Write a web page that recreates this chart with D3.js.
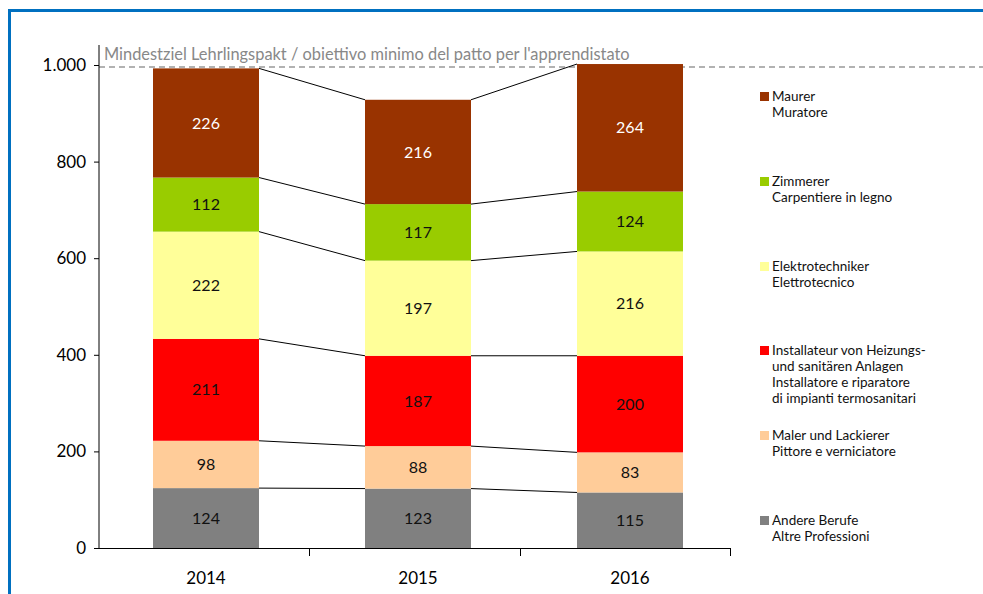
<!DOCTYPE html>
<html>
<head>
<meta charset="utf-8">
<script src="https://cdn.jsdelivr.net/npm/d3@7"></script>
<style>
  body { margin: 0; background: #fff; }
  svg { display: block; font-family: Lato, "Open Sans", sans-serif; }
</style>
</head>
<body>
<div id="chart"></div>
<script>
'use strict';

const years = ['2014', '2015', '2016'];
const seriesNames = [
  ['Andere Berufe', 'Altre Professioni'],
  ['Maler und Lackierer', 'Pittore e verniciatore'],
  ['Installateur von Heizungs-', 'und sanitären Anlagen', 'Installatore e riparatore', 'di impianti termosanitari'],
  ['Elektrotechniker', 'Elettrotecnico'],
  ['Zimmerer', 'Carpentiere in legno'],
  ['Maurer', 'Muratore']
];
const seriesColors = ['#808080', '#ffcc99', '#ff0000', '#ffff99', '#99cc00', '#993300'];
// values per series (bottom to top), one per year
const andere = [124, 123, 115];
const maler = [98, 88, 83];
const installateur = [211, 187, 200];
const elektro = [222, 197, 216];
const zimmerer = [112, 117, 124];
const maurer = [226, 216, 264];
const yTicks = [0, 200, 400, 600, 800, 1000];
const target = 1000;
const targetLabel = "Mindestziel Lehrlingspakt / obiettivo minimo del patto per l'apprendistato";

const values = [andere, maler, installateur, elektro, zimmerer, maurer];
const W = 983, H = 594;

const $svg = d3.select('#chart').append('svg').attr('width', W).attr('height', H);

// frame
$svg.append('line').attr('x1', 8).attr('x2', W).attr('y1', 10.5).attr('y2', 10.5)
  .attr('stroke', '#0070c0').attr('stroke-width', 3);
$svg.append('line').attr('x1', 9.5).attr('x2', 9.5).attr('y1', 9).attr('y2', H)
  .attr('stroke', '#0070c0').attr('stroke-width', 3);

const x = d3.scaleBand().domain(years).range([99, 730]).padding(0);
// bars sit a little right of the band centres in the original
const xb = d3.scaleBand().domain(years).range([100, 736]).padding(0);
const y = d3.scaleLinear().domain([0, 1000]).range([548, 65]);
const barW = 106;

const data = years.map((yr, i) => {
  let acc = 0;
  return values.map((s, k) => {
    const d = { year: yr, k: k, y0: acc, y1: acc + s[i], v: s[i] };
    acc += s[i];
    return d;
  });
});

// target line
$svg.append('line')
  .attr('x1', 99).attr('x2', W).attr('y1', y(target) + 2).attr('y2', y(target) + 2)
  .attr('stroke', '#999').attr('stroke-width', 1.6).attr('stroke-dasharray', '6,4');
$svg.append('text').attr('x', 104).attr('y', 60)
  .attr('font-size', 16.4).attr('fill', '#888').text(targetLabel);

// connectors
const $links = $svg.append('g');
for (let i = 0; i < years.length - 1; i++) {
  data[i].forEach((d, k) => {
    const n = data[i + 1][k];
    $links.append('line')
      .attr('x1', xb(years[i]) + xb.bandwidth() / 2 + barW / 2)
      .attr('x2', xb(years[i + 1]) + xb.bandwidth() / 2 - barW / 2)
      .attr('y1', y(d.y1)).attr('y2', y(n.y1))
      .attr('stroke', '#000').attr('stroke-width', 1);
  });
}

// bars
const $bars = $svg.append('g').selectAll('g')
  .data(data).enter().append('g');
$bars.selectAll('rect')
  .data((d) => d).enter().append('rect')
  .attr('x', (d) => xb(d.year) + xb.bandwidth() / 2 - barW / 2)
  .attr('width', barW)
  .attr('y', (d) => y(d.y1))
  .attr('height', (d) => y(d.y0) - y(d.y1))
  .attr('fill', (d) => seriesColors[d.k]);
$bars.selectAll('text')
  .data((d) => d).enter().append('text')
  .attr('x', (d) => xb(d.year) + xb.bandwidth() / 2)
  .attr('y', (d) => (y(d.y0) + y(d.y1)) / 2)
  .attr('dy', '0.35em')
  .attr('text-anchor', 'middle')
  .attr('font-size', 16)
  .attr('fill', (d) => d.k === 5 ? '#fff' : '#111')
  .text((d) => d.v);

// axes
const loc = d3.formatLocale({ decimal: ',', thousands: '.', grouping: [3], currency: ['', ''] });
const fmt = loc.format(',');
const $y = $svg.append('g').attr('transform', 'translate(99,0)')
  .call(d3.axisLeft(y).tickValues(yTicks).tickFormat(fmt).tickSize(5).tickPadding(8));
$y.select('.domain').remove();
$y.selectAll('text').attr('font-size', 17).attr('font-family', 'Lato, sans-serif').attr('fill', '#000');
$svg.append('line').attr('x1', 99).attr('x2', 99).attr('y1', 45).attr('y2', 548.5)
  .attr('stroke', '#000');

$svg.append('line').attr('x1', 99).attr('x2', 730).attr('y1', 548.5).attr('y2', 548.5)
  .attr('stroke', '#000');
years.forEach((yr) => {
  const bx = Math.round(x(yr) + x.bandwidth()) + 0.5;
  $svg.append('line').attr('x1', bx).attr('x2', bx).attr('y1', 548).attr('y2', 556)
    .attr('stroke', '#000');
  $svg.append('text').attr('x', xb(yr) + xb.bandwidth() / 2).attr('y', 584)
    .attr('text-anchor', 'middle').attr('font-size', 17).text(yr);
});

// legend
const legendTop = [92, 177, 262, 346, 431, 516];
const order = [5, 4, 3, 2, 1, 0];
order.forEach((k, j) => {
  const $g = $svg.append('g').attr('transform', 'translate(760,' + legendTop[j] + ')');
  $g.append('rect').attr('width', 9).attr('height', 9).attr('fill', seriesColors[k]);
  seriesNames[k].forEach((line, li) => {
    $g.append('text').attr('x', 12).attr('y', 9 + li * 16)
      .attr('font-size', 13.5).attr('fill', '#111').text(line);
  });
});
</script>
</body>
</html>
